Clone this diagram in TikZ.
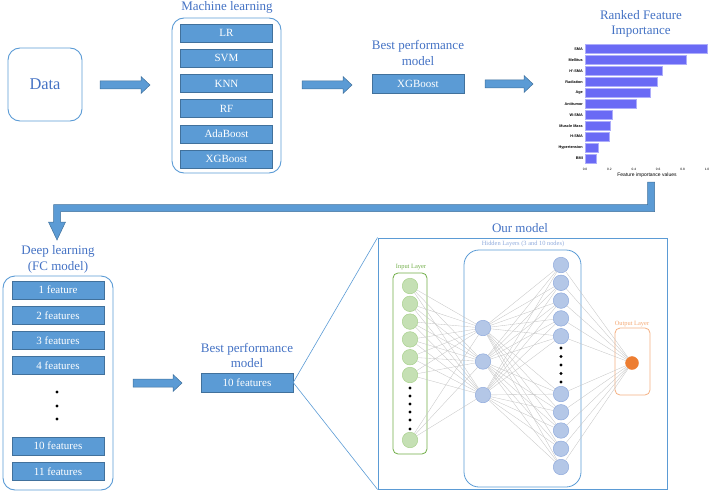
\documentclass[tikz,border=0pt]{standalone}
\usepackage{fontspec}
\setmainfont{Liberation Serif}
\newfontfamily\chartfont{Liberation Sans}
\usetikzlibrary{calc}
\definecolor{tblue}{HTML}{4472C4}
\definecolor{bfill}{HTML}{5B9BD5}
\definecolor{bdraw}{HTML}{41719C}
\definecolor{cont}{HTML}{5B9BD5}
\definecolor{barc}{RGB}{106,106,245}
\definecolor{gfill}{HTML}{C5E0B4}
\definecolor{gdraw}{HTML}{A9D18E}
\definecolor{gline}{HTML}{70AD47}
\definecolor{hfill}{HTML}{B4C7E7}
\definecolor{hdraw}{HTML}{8FAADC}
\definecolor{ofill}{HTML}{ED7D31}
\definecolor{oline}{HTML}{F4B183}
\newcommand{\blkarrow}[4]{% name, x1, x2, y
  \filldraw[fill=bfill,draw=bdraw,line width=0.5pt] (#2,#4-4) -- (#3-9,#4-4) -- (#3-9,#4-8.5) -- (#3,#4) -- (#3-9,#4+8.5) -- (#3-9,#4+4) -- (#2,#4+4) -- cycle;
  \coordinate (#1) at (#2,#4);}
\begin{document}
\begin{tikzpicture}[x=1pt,y=-1pt,
  title/.style={text=tblue,font=\fontsize{13}{15.5}\selectfont,align=center,inner sep=0pt},
  container/.style={draw=cont,line width=0.9pt,rounded corners=12pt,inner sep=0pt},
  mbox/.style={fill=bfill,draw=bdraw,line width=0.4pt,text=white,font=\fontsize{11}{12}\selectfont,minimum width=92pt,minimum height=18pt,inner sep=0pt},
  dotn/.style={circle,fill=black,inner sep=0pt,minimum size=3.4pt},
  innode/.style={circle,fill=gfill,draw=gdraw,line width=0.5pt,minimum size=15.5pt,inner sep=0pt},
  hnode/.style={circle,fill=hfill,draw=hdraw,line width=0.5pt,minimum size=15.5pt,inner sep=0pt},
  conn/.style={draw=gray!45,line width=0.35pt},
  nnlabel/.style={font=\fontsize{6.4}{7}\selectfont,inner sep=0pt},
  chlab/.style={font=\chartfont\bfseries\fontsize{3.8}{4}\selectfont,inner sep=0pt},
]
\useasboundingbox (0,0) rectangle (711,492);

% ---------- top row ----------
\node[container,minimum width=74pt,minimum height=73pt,text=tblue,font=\fontsize{16.4}{18}\selectfont] (data) at (45,84.5) {Data};
\blkarrow{a1}{100}{150}{85}

\node[title] (mltitle) at (227,7.5) {Machine learning};
\node[container,minimum width=109pt,minimum height=155pt] (ml) at (226.5,95.5) {};
\foreach \t [count=\i from 0] in {LR,SVM,KNN,RF,AdaBoost,XGBoost}
  \node[mbox] (ml\i) at (226.5,33+25.2*\i) {\t};

\blkarrow{a2}{302}{352}{85}

\node[title] (besttop) at (418,53) {Best performance\\model};
\node[mbox,minimum height=19pt] (xgb) at (418,83.5) {XGBoost};

\blkarrow{a3}{485}{533}{84}

\node[title] (rank) at (641,24) {Ranked Feature\\Importance};

% feature importance chart
\foreach \lab/\v [count=\i from 0] in {SMA/1.0,Mellitus/0.83,H'-SMA/0.63,Radiation/0.595,Age/0.537,Antitumor/0.416,W-SMA/0.222,Muscle Mass/0.208,H-SMA/0.197,Hypertension/0.112,BMI/0.09}{
  \pgfmathsetmacro\yy{49+10.95*\i}
  \filldraw[fill=barc,draw=barc!55!white,line width=0.4pt] (585,\yy-4.5) rectangle (585+122*\v,\yy+4.5);
  \node[chlab,anchor=east] (flab\i) at (583,\yy) {\lab};
}
\foreach \t [count=\k from 0] in {0.0,0.2,0.4,0.6,0.8,1.0}
  \node[chlab,font=\chartfont\fontsize{3.2}{4}\selectfont] (tick\k) at (585+24.4*\k,169) {\t};
\node[font=\chartfont\fontsize{5}{6}\selectfont,inner sep=0pt] (xlab) at (647,175) {Feature importance values};

% big L arrow
\filldraw[fill=bfill,draw=bdraw,line width=0.5pt]
  (647.5,182) -- (654.5,182) -- (654.5,211.5) -- (60.5,211.5) -- (60.5,222) -- (65.5,222) -- (57,240) -- (48.5,222) -- (53.5,222) -- (53.5,204.5) -- (647.5,204.5) -- cycle;

% ---------- bottom row ----------
\node[title] (dltitle) at (58,259.5) {Deep learning\\(FC model)};
\node[container,minimum width=110pt,minimum height=214pt] (dl) at (58,383) {};
\foreach \t/\yy [count=\i] in {1 feature/290,2 features/315.2,3 features/340.4,4 features/365.6,10 features/446,11 features/471.2}
  \node[mbox] (dl\i) at (58,\yy) {\t};
\foreach \yy [count=\i] in {392,406,419}
  \node[dotn] (dd\i) at (57,\yy) {};

\blkarrow{a4}{133}{182}{383}

\node[title] (bestbot) at (247,355.5) {Best performance\\model};
\node[mbox,minimum height=19pt] (ten) at (247,382.5) {10 features};

\node[title] (ourt) at (520,228) {Our model};
\node[draw=cont,line width=0.9pt,minimum width=289pt,minimum height=251pt,inner sep=0pt] (our) at (522.5,363.5) {};
\draw[draw=cont,line width=0.6pt] (ten.east) -- (our.north west);
\draw[draw=cont,line width=0.6pt] (ten.east) -- (our.south west);

% layer boxes
\node[draw=gline,line width=0.8pt,rounded corners=5pt,minimum width=34pt,minimum height=181pt,inner sep=0pt] (inbox) at (410,363.5) {};
\node[nnlabel,text=gline] (inlab) at (411,267) {Input Layer};
\node[draw=cont,line width=0.8pt,rounded corners=15pt,minimum width=117pt,minimum height=237pt,inner sep=0pt] (hbox) at (522.5,368.5) {};
\node[nnlabel,text=hdraw] (hlab) at (523,244) {Hidden Layers (3 and 10 nodes)};
\node[draw=oline,line width=0.8pt,rounded corners=5pt,minimum width=35pt,minimum height=67pt,inner sep=0pt] (obox) at (632.5,361.5) {};
\node[nnlabel,text=oline!80!ofill] (olab) at (632,324) {Output Layer};

% neurons
\foreach \yy [count=\i] in {286,303.8,321.6,339.4,357.2,375,440}
  \node[innode] (in\i) at (410,\yy) {};
\foreach \yy [count=\i] in {388,396,404,412,420,429}
  \node[dotn] (ind\i) at (410,\yy) {};
\foreach \yy [count=\i] in {328,361.5,395}
  \node[hnode] (ha\i) at (483,\yy) {};
\foreach \yy [count=\i] in {265,282.8,300.6,318.4,336.2,394,412.25,430.5,448.75,467}
  \node[hnode] (hb\i) at (561,\yy) {};
\foreach \yy [count=\i] in {348,356.5,365,373.5,382}
  \node[dotn] (hbd\i) at (561,\yy) {};
\node[circle,fill=ofill,draw=ofill,minimum size=13pt,inner sep=0pt] (out) at (632,363) {};

% connections
\foreach \i in {1,...,7}
  \foreach \j in {1,2,3}
    \draw[conn] (in\i) -- (ha\j);
\foreach \i in {1,2,3}
  \foreach \j in {1,...,10}
    \draw[conn] (ha\i) -- (hb\j);
\foreach \j in {1,...,10}
  \draw[conn] (hb\j) -- (out);
\end{tikzpicture}
\end{document}
